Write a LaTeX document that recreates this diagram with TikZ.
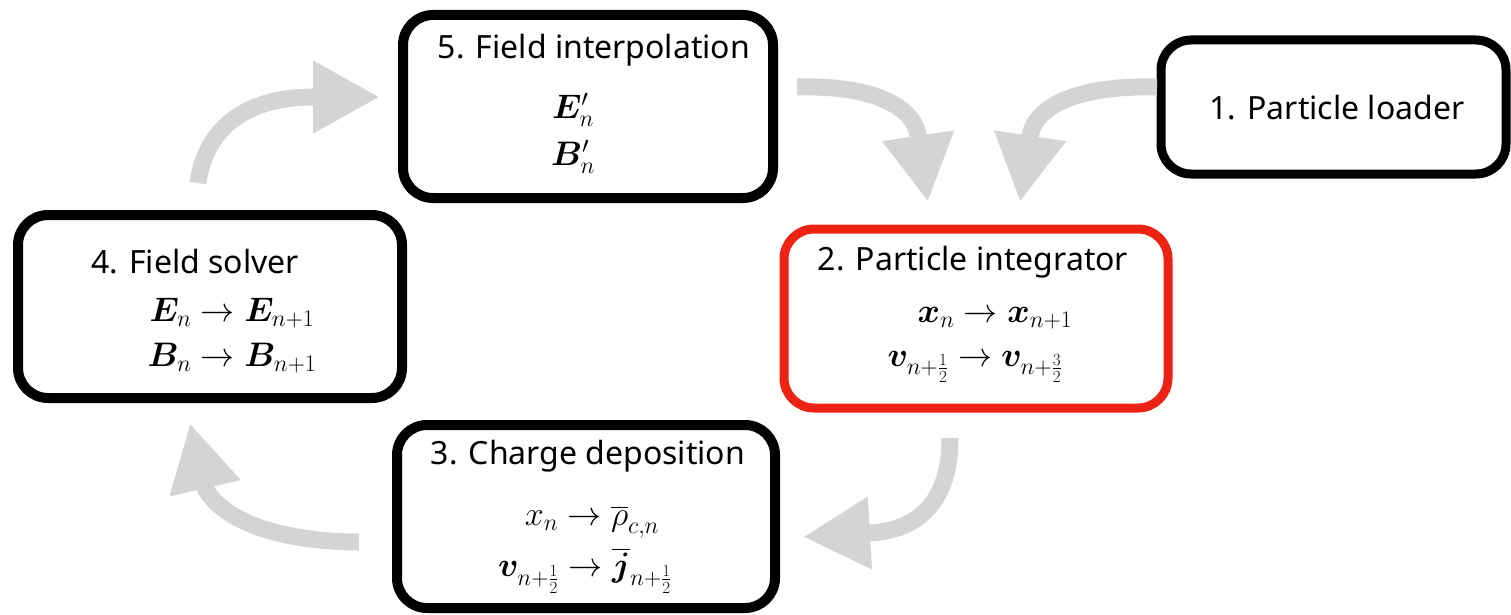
\RequirePackage{fix-cm}
\documentclass[tikz,border=0pt]{standalone}
\usepackage{amsmath}
\usepackage{bm}
\usepackage{fontspec}
\setmainfont{Noto Sans}
\usetikzlibrary{arrows.meta}
\definecolor{flowgray}{RGB}{212,212,212}
\definecolor{boxred}{RGB}{236,34,18}
\tikzset{
  box/.style={draw=black, line width=10pt, rounded corners=30pt, fill=white, inner sep=0pt},
  redbox/.style={box, draw=boxred, line width=9pt},
  title/.style={font=\fontsize{32}{38}\selectfont, inner sep=0pt},
  formula/.style={font=\fontsize{34}{40}\selectfont, inner sep=0pt},
  flow/.style={draw=flowgray, line width=17pt, -{Triangle[length=67pt,width=68pt]}}
}
\begin{document}
\begin{tikzpicture}[x=1pt,y=-1pt]
\useasboundingbox (0,0) rectangle (1511,615);
% boxes
\node[box, minimum width=370pt, minimum height=183pt] (b5) at (588,106.5) {};
\node[box, line width=9pt, minimum width=345pt, minimum height=134pt] (b1) at (1333.5,107) {};
\node[redbox, minimum width=384pt, minimum height=179pt] (b2) at (976,318.5) {};
\node[box, minimum width=384pt, minimum height=183pt] (b4) at (210,306.5) {};
\node[box, minimum width=378pt, minimum height=183pt] (b3) at (586,516.5) {};
% texts
\node[title] (t5) at (594,50) {5. Field interpolation};
\node[formula] (f5a) at (573,110) {$\bm{E}'_n$};
\node[formula] (f5b) at (573,157) {$\bm{B}'_n$};
\node[title] (t1) at (1337,108) {1. Particle loader};
\node[title] (t2) at (973,262) {2. Particle integrator};
\node[formula] (f2a) at (995,318) {$\bm{x}_n \rightarrow \bm{x}_{n+1}$};
\node[formula] (f2b) at (975,367) {$\bm{v}_{n+\frac{1}{2}} \rightarrow \bm{v}_{n+\frac{3}{2}}$};
\node[title] (t4) at (195,262) {4. Field solver};
\node[formula] (f4a) at (232,313) {$\bm{E}_n \rightarrow \bm{E}_{n+1}$};
\node[formula] (f4b) at (232,358) {$\bm{B}_n \rightarrow \bm{B}_{n+1}$};
\node[title] (t3) at (588,456) {3. Charge deposition};
\node[formula] (f3a) at (592,522) {$x_n \rightarrow \overline{\rho}_{c,n}$};
\node[formula] (f3b) at (585,571) {$\bm{v}_{n+\frac{1}{2}} \rightarrow \overline{\bm{j}}_{n+\frac{1}{2}}$};
% arrow end points
\coordinate (a45s) at (198,183);
\coordinate (a45e) at (380,97);
\coordinate (a52s) at (797,87);
\coordinate (a52e) at (928,202);
\coordinate (a12s) at (1157,87);
\coordinate (a12e) at (1020,202);
\coordinate (a23s) at (950,438);
\coordinate (a23e) at (803,537);
\coordinate (a34s) at (359,542);
\coordinate (a34e) at (190,423);
% arrows
\draw[flow] (a45s) .. controls (206,125) and (250,97) .. (313,97) -- (a45e);
\draw[flow] (a52s) .. controls (880,85) and (914,110) .. (918,135) -- (a52e);
\draw[flow] (a12s) .. controls (1070,85) and (1034,110) .. (1030,136) -- (a12e);
\draw[flow] (a23s) .. controls (950,500) and (920,530) .. (870,533) -- (a23e);
\draw[flow] (a34s) .. controls (290,542) and (225,525) .. (205,488) -- (a34e);
\end{tikzpicture}
\end{document}
